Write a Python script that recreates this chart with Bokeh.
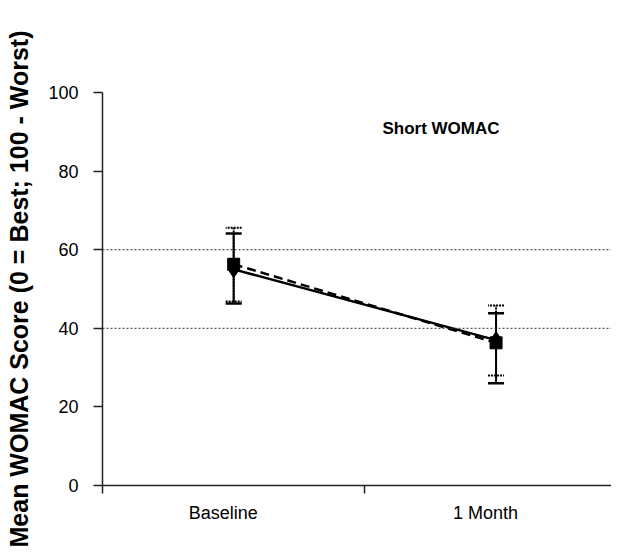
from bokeh.plotting import figure
from bokeh.models import Range1d, FixedTicker, Span, Whisker, TeeHead, ColumnDataSource, Label
from bokeh.embed import file_html
from bokeh.resources import INLINE

# ---- data ----
timepoints = ["Baseline", "1 Month"]
solid_mean = [55.0, 37.0]      # solid line, diamond markers
solid_upper = [64.1, 43.8]
solid_lower = [46.3, 26.0]
dashed_mean = [56.3, 36.3]     # dashed line, square markers
dashed_upper = [65.6, 45.8]
dashed_lower = [46.8, 28.0]
y_ticks = [0, 20, 40, 60, 80, 100]
ref_lines = [40, 60]
chart_title = "Short WOMAC"
y_title = "Mean WOMAC Score (0 = Best; 100 - Worst)"

xs = [i + 0.5 for i in range(len(timepoints))]
bounds = [float(i) for i in range(len(timepoints) + 1)]
label_pos = [x - 0.04 for x in xs]   # category labels sit slightly left of centre

FONT = "Liberation Sans"

p = figure(width=611, height=552, output_backend="svg", toolbar_location=None,
           x_range=Range1d(0, 1.94), y_range=Range1d(0, 100),
           min_border_left=102, min_border_right=0, min_border_top=92,
           min_border_bottom=67)
p.outline_line_color = None
p.grid.visible = False

# reference dotted lines
for v in ref_lines:
    p.add_layout(Span(location=v, dimension="width", line_dash="2 2",
                      line_color="#333333", line_width=1))

# error bars
src_s = ColumnDataSource(dict(x=xs, m=solid_mean, u=solid_upper, l=solid_lower))
src_d = ColumnDataSource(dict(x=xs, m=dashed_mean, u=dashed_upper, l=dashed_lower))

wd = Whisker(base="x", upper="u", lower="l", source=src_d,
             line_color="black", line_width=2, line_dash="2 1",
             upper_head=TeeHead(size=16, line_width=2, line_color="black", line_dash="2 1"),
             lower_head=TeeHead(size=16, line_width=2, line_color="black", line_dash="2 1"))
ws = Whisker(base="x", upper="u", lower="l", source=src_s,
             line_color="black", line_width=2,
             upper_head=TeeHead(size=16, line_width=2.5, line_color="black"),
             lower_head=TeeHead(size=16, line_width=2.5, line_color="black"))
p.add_layout(wd)
p.add_layout(ws)

# series
p.line("x", "m", source=src_s, line_color="black", line_width=2.5)
p.line("x", "m", source=src_d, line_color="black", line_width=2.5, line_dash="9 5")
p.scatter("x", "m", source=src_d, marker="square", size=12, color="black")
p.scatter("x", "m", source=src_s, marker="diamond", size=17, color="black")

# title inside plot
p.add_layout(Label(x=1.29, y=90.8, text=chart_title, text_align="center",
                   text_baseline="middle", text_font=FONT, text_font_size="17px",
                   text_font_style="bold", text_color="black"))

# x axis
xa = p.xaxis[0]
xa.ticker = FixedTicker(ticks=label_pos, minor_ticks=bounds)
xa.major_label_overrides = {x: t for x, t in zip(label_pos, timepoints)}
xa.major_tick_line_color = None
xa.major_tick_out = 0
xa.major_tick_in = 0
xa.minor_tick_out = 8
xa.minor_tick_in = 0
xa.minor_tick_line_color = "#222222"
xa.minor_tick_line_width = 1.5
xa.axis_line_color = "#222222"
xa.axis_line_width = 1.5
xa.major_label_standoff = 9
xa.major_label_text_font = FONT
xa.major_label_text_font_size = "18px"
xa.major_label_text_color = "black"

# y axis
ya = p.yaxis[0]
ya.ticker = FixedTicker(ticks=y_ticks, minor_ticks=[])
ya.major_tick_out = 9
ya.major_tick_in = 0
ya.major_tick_line_color = "#222222"
ya.major_tick_line_width = 1.5
ya.axis_line_color = "#222222"
ya.axis_line_width = 1.5
ya.major_label_standoff = 15
ya.major_label_text_font = FONT
ya.major_label_text_font_size = "18px"
ya.major_label_text_color = "black"
ya.axis_label = y_title
ya.axis_label_text_font = FONT
ya.axis_label_text_font_size = "25px"
ya.axis_label_text_font_style = "bold"
ya.axis_label_text_color = "black"
ya.axis_label_standoff = 12

open("out.html", "w").write(file_html(p, INLINE))
